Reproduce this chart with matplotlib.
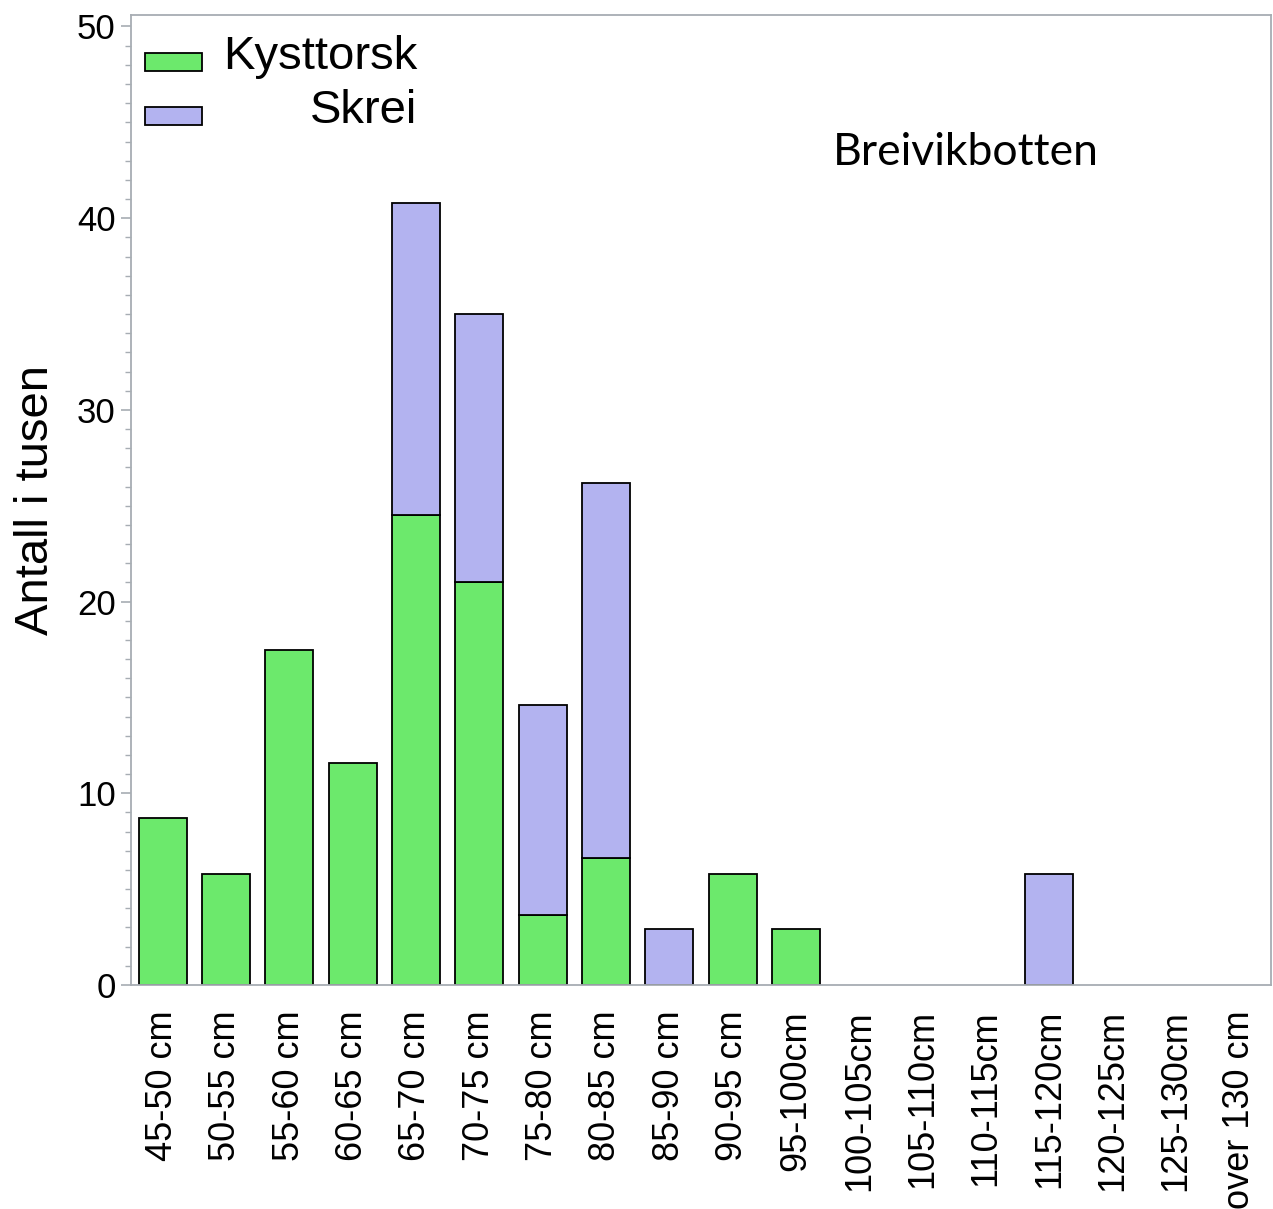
import numpy as np
import matplotlib
matplotlib.use("Agg")
import matplotlib.pyplot as plt
from matplotlib.ticker import MultipleLocator
from matplotlib.patches import Rectangle

# length groups and values (thousands)
groups = ["45-50 cm", "50-55 cm", "55-60 cm", "60-65 cm", "65-70 cm", "70-75 cm",
          "75-80 cm", "80-85 cm", "85-90 cm", "90-95 cm", "95-100cm", "100-105cm",
          "105-110cm", "110-115cm", "115-120cm", "120-125cm", "125-130cm", "over 130 cm"]
kysttorsk = [8.7, 5.8, 17.5, 11.6, 24.5, 21.0, 3.65, 6.6, 0, 5.8, 2.9, 0, 0, 0, 0, 0, 0, 0]
skrei = [0, 0, 0, 0, 16.3, 14.0, 10.95, 19.6, 2.9, 0, 0, 0, 0, 0, 5.8, 0, 0, 0]
series_names = ["Kysttorsk", "Skrei"]

green = "#6ce96c"
purple = "#b3b3f0"
grey = "#a7adb3"

plt.rcParams['font.family'] = ['Liberation Sans', 'DejaVu Sans']

fig = plt.figure(figsize=(12.73, 12.09), dpi=100)
ax = fig.add_axes([0.1029, 0.1853, 0.8955, 0.8023])

x = np.arange(len(groups))
k = np.array(kysttorsk)
s = np.array(skrei)
# draw only non-zero segments
ax.bar(x[k > 0], k[k > 0], width=0.76, color=green, edgecolor="black", linewidth=1.3)
ax.bar(x[s > 0], s[s > 0], width=0.76, bottom=k[s > 0], color=purple,
       edgecolor="black", linewidth=1.3)

ax.set_xlim(-0.5, len(groups) - 0.5)
ax.set_ylim(0, 50.6)
ax.set_yticks([0, 10, 20, 30, 40, 50])
ax.yaxis.set_minor_locator(MultipleLocator(1))
ax.set_xticks(x)
ax.set_xticklabels(groups, rotation=90, fontsize=26)
ax.tick_params(axis='x', length=0, pad=18)
ax.tick_params(axis='y', which='major', length=7, width=1.2, color=grey, labelsize=25, pad=4)
ax.tick_params(axis='y', which='minor', length=4, width=1.0, color=grey)
for sp in ax.spines.values():
    sp.set_color(grey)
    sp.set_linewidth(1.3)

ax.set_ylabel("Antall i tusen", fontsize=34, labelpad=14)

ax.text(0.732, 0.858, "Breivikbotten", transform=ax.transAxes, fontsize=32,
        family=['Lato', 'DejaVu Sans'], ha='center', va='center')

# legend: boxes on the left, labels right-aligned
for i, (name, col) in enumerate(zip(series_names, [green, purple])):
    yc = 0.952 - i * 0.056
    ax.add_patch(Rectangle((0.0123, yc - 0.0093), 0.05, 0.0186, transform=ax.transAxes,
                           facecolor=col, edgecolor='black', linewidth=1.3, clip_on=False))
    ax.text(0.2509, yc + 0.005, name, transform=ax.transAxes, fontsize=34,
            ha='right', va='center')

fig.savefig("out.png", dpi=100)
